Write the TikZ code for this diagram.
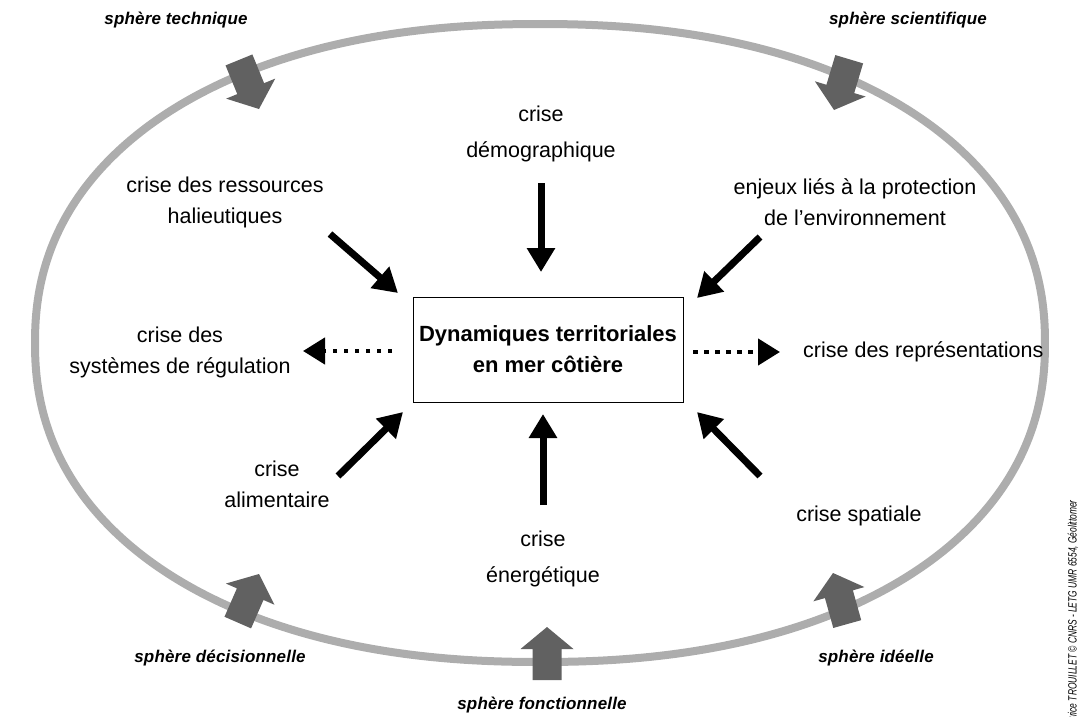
\documentclass[tikz,border=0pt]{standalone}
\usepackage{fontspec}
\setmainfont{Liberation Sans}
\newfontfamily\copyfont[FakeStretch=0.7]{Liberation Sans}
\newfontfamily\spherefont[LetterSpace=1]{Liberation Sans}
\usetikzlibrary{arrows.meta}
\definecolor{ringgray}{RGB}{173,173,173}
\definecolor{arrowgray}{RGB}{97,97,97}
\tikzset{
  lbl/.style={font=\fontsize{21.5}{31}\selectfont, align=center, inner sep=0pt},
  lbltall/.style={font=\fontsize{21.5}{36}\selectfont, align=center, inner sep=0pt},
  sph/.style={font=\spherefont\bfseries\itshape\fontsize{17}{19}\selectfont, inner sep=0pt},
  mainbox/.style={draw, line width=1pt, minimum width=270pt, minimum height=105pt, align=center,
    font=\bfseries\fontsize{22}{31}\selectfont, inner sep=0pt},
  blackarrow/.style={line width=7pt, -{Triangle[length=24pt,width=27pt]}},
  dotarrow/.style={line width=4.5pt, dash pattern=on 4.5pt off 6.5pt, -{Triangle[length=22pt,width=26pt]}},
  bigarrow/.style={fill=arrowgray},
  ring/.style={draw=ringgray, line width=8pt},
}
\newcommand\spharrow[2]{%
  \fill[bigarrow, shift={(#1)}, rotate=#2] (0pt,0pt) -- (-22pt,26.5pt) -- (-22pt,14.5pt) -- (-53pt,14.5pt)
    -- (-53pt,-14.5pt) -- (-22pt,-14.5pt) -- (-22pt,-26.5pt) -- cycle;}
\begin{document}
\begin{tikzpicture}[x=1pt,y=-1pt]
\useasboundingbox (0,0) rectangle (1085,716);
% ring (superellipse)
\draw[ring] plot[smooth cycle, domain=1:359, samples=180, variable=\t]
  ({540+505*cos(\t)*pow(abs(cos(\t)),-0.0909)}, {343+319*sin(\t)*pow(abs(sin(\t)),-0.0909)});
% sphere arrows
\spharrow{259,109}{-67.8}
\spharrow{834,110}{-106.7}
\spharrow{259,574}{66.4}
\spharrow{833,573}{105.6}
\spharrow{547,627}{90}
% sphere labels
\node[sph] (stech) at (176,20) {sphère technique};
\node[sph] (ssci) at (908,20) {sphère scientifique};
\node[sph] (sdec) at (220,658) {sphère décisionnelle};
\node[sph] (sid) at (876,658) {sphère idéelle};
\node[sph] (sfon) at (542,705) {sphère fonctionnelle};
% central box
\node[mainbox] (box) at (548,349.5) {Dynamiques territoriales\\en mer côtière};
% crisis labels
\node[lbltall] (demog) at (541,134) {crise\\démographique};
\node[lbl] (halieut) at (225,202.5) {crise des ressources\\halieutiques};
\node[lbl] (env) at (855,202.5) {enjeux liés à la protection\\de l'environnement};
\node[lbl] (regul) at (180,352.5) {crise des\\systèmes de régulation};
\node[lbl, anchor=west] (repres) at (803,352) {crise des représentations};
\node[lbl] (aliment) at (277,484.5) {crise\\alimentaire};
\node[lbltall] (energ) at (543,559) {crise\\énergétique};
\node[lbl] (spatial) at (859,516) {crise spatiale};
% arrow end points
\coordinate (hS) at (330,234); \coordinate (hE) at (398,293);
\coordinate (dS) at (541,183); \coordinate (dE) at (541,272);
\coordinate (eS) at (760,237); \coordinate (eE) at (697,298);
\coordinate (aS) at (338,476); \coordinate (aE) at (403,412);
\coordinate (nS) at (543,505); \coordinate (nE) at (543,414);
\coordinate (sS) at (760,476); \coordinate (sE) at (697,412);
\coordinate (rS) at (392,351); \coordinate (rE) at (303,351);
\coordinate (pS) at (693,352); \coordinate (pE) at (780,352);
\draw[blackarrow] (hS) -- (hE);
\draw[blackarrow] (dS) -- (dE);
\draw[blackarrow] (eS) -- (eE);
\draw[blackarrow] (aS) -- (aE);
\draw[blackarrow] (nS) -- (nE);
\draw[blackarrow] (sS) -- (sE);
\draw[dotarrow] (rS) -- (rE);
\draw[dotarrow] (pS) -- (pE);
% credit
\node[rotate=90, anchor=east, inner sep=0pt, font=\copyfont\itshape\fontsize{12}{14}\selectfont] (credit) at (1073,500) {Brice TROUILLET © CNRS - LETG UMR 6554, Géolittomer};
\end{tikzpicture}
\end{document}
